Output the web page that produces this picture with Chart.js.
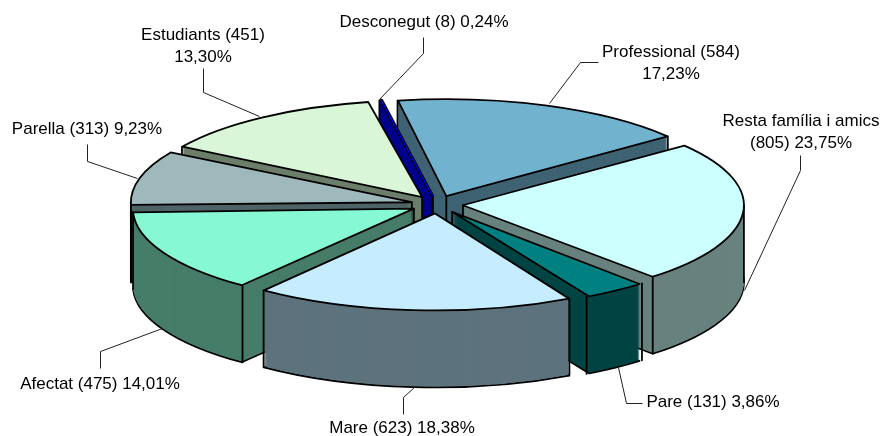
<!DOCTYPE html>
<html><head><meta charset="utf-8">
<style>html,body{margin:0;padding:0;background:#fff}canvas{display:block}</style>
<script src="https://cdn.jsdelivr.net/npm/chart.js@4"></script></head>
<body><canvas id="c" width="883" height="436"></canvas>
<script>
const categories = ['Professional','Resta família i amics','Pare','Mare','Afectat','Parella','Estudiants','Desconegut'];
const values = [584,805,131,623,475,313,451,8];
const topColors = ['#71B2CF','#CCFFFF','#008080','#C6ECFF','#86F8D3','#9EB8BC','#D9F6D8','#0000E0'];
const sideColors = ['#3F6373','#68827E','#004444','#5D737D','#467D69','#4F6367','#6C7F6B','#00008B'];
const paintOrder = [0,7,6,5,1,4,2,3];
const labelLines = [['Professional (584)','17,23%'],['Resta família i amics','(805) 23,75%'],['Pare (131) 3,86%'],['Mare (623) 18,38%'],['Afectat (475) 14,01%'],['Parella (313) 9,23%'],['Estudiants (451)','13,30%'],['Desconegut (8) 0,24%']];
const labelAnchors = [[671,52],[801,121],[713,402],[402,428],[100,384],[87,129],[203,35],[424,22]];
const leaders = [[[549,103],[580,62],[598,62]],[[744,290],[800,170],[800,155]],[[618,367],[626,403],[642,403]],[[415,386],[403,397],[403,414]],[[162,328],[100,351],[100,368]],[[137,178],[87,161],[87,144]],[[259,116],[203,92],[203,68]],[[379,99],[423,53],[423,37]]];
const view = {cx:437, cy:204.5, squash:0.345, depth:77, radius:281, explode:104, rotation:-10, line:1.8};

function withFlatStroke(ctx, fn){
  const native = ctx.stroke;
  ctx.stroke = function(){ ctx.save(); ctx.setTransform(1,0,0,1,0,0); native.call(ctx); ctx.restore(); };
  fn();
  delete ctx.stroke;
}
const pie3d = {
  id:'pie3d',
  beforeDatasetsDraw(chart){
    const ctx = chart.ctx, arcs = chart.getDatasetMeta(0).data, area = chart.chartArea;
    const s = view.squash, arc0 = arcs[0], off = view.explode/4, R = view.radius;
    const tx = view.cx - arc0.x, ty = view.cy - s*arc0.y;
    // Arc.draw widens a shifted slice by offset*(1-sin(sweep)); undo it so all rims share one radius
    arcs.forEach(a=>{
      const fix = 1 - Math.sin(Math.min(Math.PI, a.circumference||0));
      a.outerRadius = R - off*fix;
    });
    const paint = (arc, color, edge, width, d) => {
      const o = arc.options, temp = Object.create(o);
      temp.backgroundColor = color;
      temp.borderColor = edge;
      temp.borderWidth = width;
      temp.borderJoinStyle = 'round';
      arc.options = temp;
      ctx.save();
      ctx.setTransform(1,0,0,s,tx,ty+d);
      withFlatStroke(ctx, ()=>arc.draw(ctx, area));
      ctx.restore();
      arc.options = o;
    };
    paintOrder.forEach(i=>{
      const arc = arcs[i], side = sideColors[i], top = topColors[i];
      const thin = arc.circumference < 0.05;
      paint(arc, side, '#000', thin ? 4 : view.line, view.depth);
      for(let d=view.depth-1; d>0; d--){
        if(thin) paint(arc, side, side, 3, d); else paint(arc, side, side, 0, d);
      }
      const a0 = arc.startAngle, a1 = arc.endAngle, mid = (a0+a1)/2;
      const ox = arc.x + Math.cos(mid)*off, oy = arc.y + Math.sin(mid)*off;
      const pts = [];
      const rim = a => [ox+Math.cos(a)*R, oy+Math.sin(a)*R];
      // a vertical edge shows only when a face next to it looks towards the viewer
      if(Math.cos(a0)<0 || Math.cos(a1)>0) pts.push([ox,oy]);
      if(Math.sin(a0)>0 || Math.cos(a0)<0) pts.push(rim(a0));
      if(Math.sin(a1)>0 || Math.cos(a1)>0) pts.push(rim(a1));
      [0, Math.PI, 2*Math.PI].forEach(a=>{ if(a>a0 && a<a1) pts.push(rim(a)); });
      ctx.save();
      ctx.strokeStyle='#000'; ctx.lineWidth=view.line; ctx.lineCap='round';
      pts.forEach(p=>{
        const x=p[0]+tx, y=p[1]*s+ty;
        ctx.beginPath(); ctx.moveTo(x,y); ctx.lineTo(x,y+view.depth); ctx.stroke();
      });
      ctx.restore();
      if(thin){ paint(arc, top, '#000', 3.4, 0); paint(arc, top, top, 1.4, 0); }
      else paint(arc, top, '#000', view.line, 0);
    });
    return false;
  },
  afterDraw(chart){
    const ctx = chart.ctx;
    ctx.save();
    ctx.strokeStyle='#222'; ctx.lineWidth=1;
    leaders.forEach(l=>{
      ctx.beginPath();
      l.forEach((p,i)=> i? ctx.lineTo(p[0]+.5,p[1]+.5): ctx.moveTo(p[0]+.5,p[1]+.5));
      ctx.stroke();
    });
    ctx.fillStyle='#000'; ctx.font='17px "Liberation Sans", Arial, sans-serif';
    ctx.textAlign='center'; ctx.textBaseline='middle';
    labelLines.forEach((ls,i)=>ls.forEach((t,j)=>ctx.fillText(t,labelAnchors[i][0],labelAnchors[i][1]+j*22)));
    ctx.restore();
  }
};
new Chart(document.getElementById('c'),{
  type:'pie',
  data:{labels:categories,datasets:[{data:values,backgroundColor:topColors,borderColor:'#000',borderWidth:view.line,offset:view.explode,clip:false}]},
  options:{
    responsive:false,animation:false,rotation:view.rotation,radius:view.radius,
    layout:{padding:0},
    plugins:{legend:{display:false},tooltip:{enabled:false}}
  },
  plugins:[pie3d]
});
</script></body></html>
